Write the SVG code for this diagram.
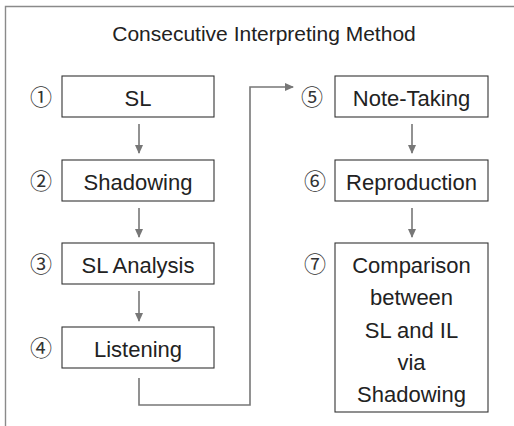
<svg xmlns="http://www.w3.org/2000/svg" width="514" height="426" viewBox="0 0 514 426">
  <defs>
    <marker id="arrow" markerUnits="userSpaceOnUse" markerWidth="9" markerHeight="8" refX="8" refY="4" orient="auto">
      <path d="M0,0 L9,4 L0,8 Z" fill="#777"/>
    </marker>
    <style>
      .frame { fill: none; stroke: #8a8a8a; stroke-width: 1.4; }
      .box { fill: #fff; stroke: #333; stroke-width: 1.1; }
      .label { font-family: "Liberation Sans", Arial, sans-serif; font-size: 22px; fill: #222; text-anchor: middle; }
      .num { font-family: "Noto Sans CJK JP", "DejaVu Sans", sans-serif; font-size: 22px; fill: #333; text-anchor: middle; }
      .title { font-family: "Liberation Sans", Arial, sans-serif; font-size: 21px; fill: #222; text-anchor: middle; }
      .conn { fill: none; stroke: #777; stroke-width: 1.6; marker-end: url(#arrow); }
    </style>
  </defs>
  <rect width="514" height="426" fill="#fff"/>
  <!-- open frame: top and left edges only -->
  <path class="frame" d="M5.5,426 V6.5 H514"/>
  <text class="title" x="264" y="40.5">Consecutive Interpreting Method</text>

  <g id="connectors">
    <line class="conn" x1="139" y1="124" x2="139" y2="153"/>
    <line class="conn" x1="139" y1="208" x2="139" y2="237"/>
    <line class="conn" x1="139" y1="291" x2="139" y2="321"/>
    <path class="conn" d="M139,378 V405 H250 V87 H293"/>
    <line class="conn" x1="412" y1="124" x2="412" y2="153"/>
    <line class="conn" x1="412" y1="208" x2="412" y2="237"/>
  </g>

  <g id="step1">
    <text class="num" x="41" y="105">①</text>
    <rect class="box" x="62" y="76" width="152" height="41"/>
    <text class="label" x="138" y="105.5">SL</text>
  </g>
  <g id="step2">
    <text class="num" x="41" y="189">②</text>
    <rect class="box" x="62" y="160" width="152" height="41"/>
    <text class="label" x="138" y="189.5">Shadowing</text>
  </g>
  <g id="step3">
    <text class="num" x="41" y="272">③</text>
    <rect class="box" x="62" y="243" width="152" height="41"/>
    <text class="label" x="138" y="272.5">SL Analysis</text>
  </g>
  <g id="step4">
    <text class="num" x="41" y="356">④</text>
    <rect class="box" x="62" y="327" width="152" height="41"/>
    <text class="label" x="138" y="356.5">Listening</text>
  </g>
  <g id="step5">
    <text class="num" x="312" y="105">⑤</text>
    <rect class="box" x="335" y="76" width="153" height="41"/>
    <text class="label" x="411.5" y="105.5">Note-Taking</text>
  </g>
  <g id="step6">
    <text class="num" x="315" y="189">⑥</text>
    <rect class="box" x="335" y="160" width="153" height="41"/>
    <text class="label" x="411.5" y="189.5">Reproduction</text>
  </g>
  <g id="step7">
    <text class="num" x="315" y="272">⑦</text>
    <rect class="box" x="335" y="243" width="153" height="169"/>
    <text class="label" x="411.5" y="273">Comparison</text>
    <text class="label" x="411.5" y="305">between</text>
    <text class="label" x="411.5" y="338">SL and IL</text>
    <text class="label" x="411.5" y="370">via</text>
    <text class="label" x="411.5" y="402">Shadowing</text>
  </g>
</svg>
